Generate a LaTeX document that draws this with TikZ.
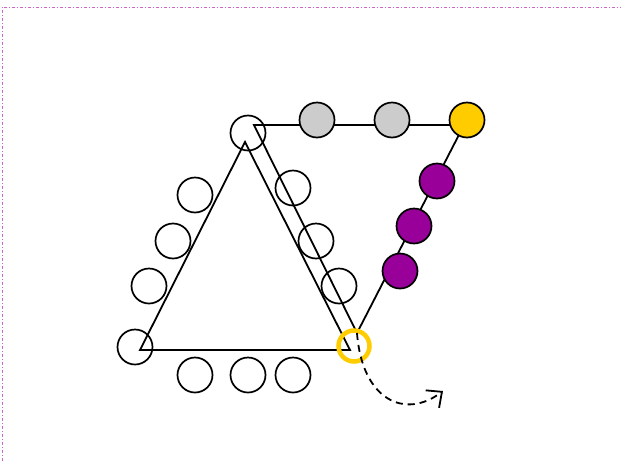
\documentclass[tikz,border=0pt]{standalone}
\usetikzlibrary{arrows.meta}
\definecolor{framepink}{RGB}{204,102,204}
\definecolor{gold}{RGB}{255,204,0}
\definecolor{plum}{RGB}{153,0,153}
\definecolor{lgray}{RGB}{204,204,204}
\begin{document}
\begin{tikzpicture}[x=1pt,y=-1pt,line width=1.8pt,
  site/.style={circle,draw,line width=1.7pt,minimum size=35pt,inner sep=0pt},
  fullsite/.style={site,fill=#1},
  ring/.style={circle,draw=gold,line width=4.5pt,minimum size=31pt,inner sep=0pt}]
  \useasboundingbox (0,0) rectangle (621,461);
  \draw[framepink,line width=1pt,dash dot] (2,461) -- (2,7) -- (621,7);

  \coordinate (A) at (245,142);
  \coordinate (B) at (140,350);
  \coordinate (C) at (350,350);
  \coordinate (D) at (254,125);
  \coordinate (E) at (464,125);
  \coordinate (F) at (357,333);
  \coordinate (T) at (443,391);

  \draw (C) -- (A) -- (B) -- cycle;
  \draw (F) -- (D) -- (E) -- cycle;

  \foreach \n/\x/\y in {s1/248/133, s2/195/195, s3/173/241, s4/149/286, s5/135/347,
                        s6/293/188, s7/316/241, s8/339/286,
                        s9/195/375, s10/248/375, s11/293/375}
    \node[site] (\n) at (\x,\y) {};
  \foreach \n/\x/\y in {g1/317/120, g2/392/120}
    \node[fullsite=lgray] (\n) at (\x,\y) {};
  \node[fullsite=gold] (y1) at (467,120) {};
  \foreach \n/\x/\y in {p1/437/181, p2/414/226, p3/400/271}
    \node[fullsite=plum] (\n) at (\x,\y) {};
  \node[ring] (r) at (354,346) {};

  \draw[dash pattern=on 7pt off 5pt,-{Straight Barb[length=12pt,width=22pt]}]
    (F) .. controls (362,400) and (405,420) .. (T);
\end{tikzpicture}
\end{document}
